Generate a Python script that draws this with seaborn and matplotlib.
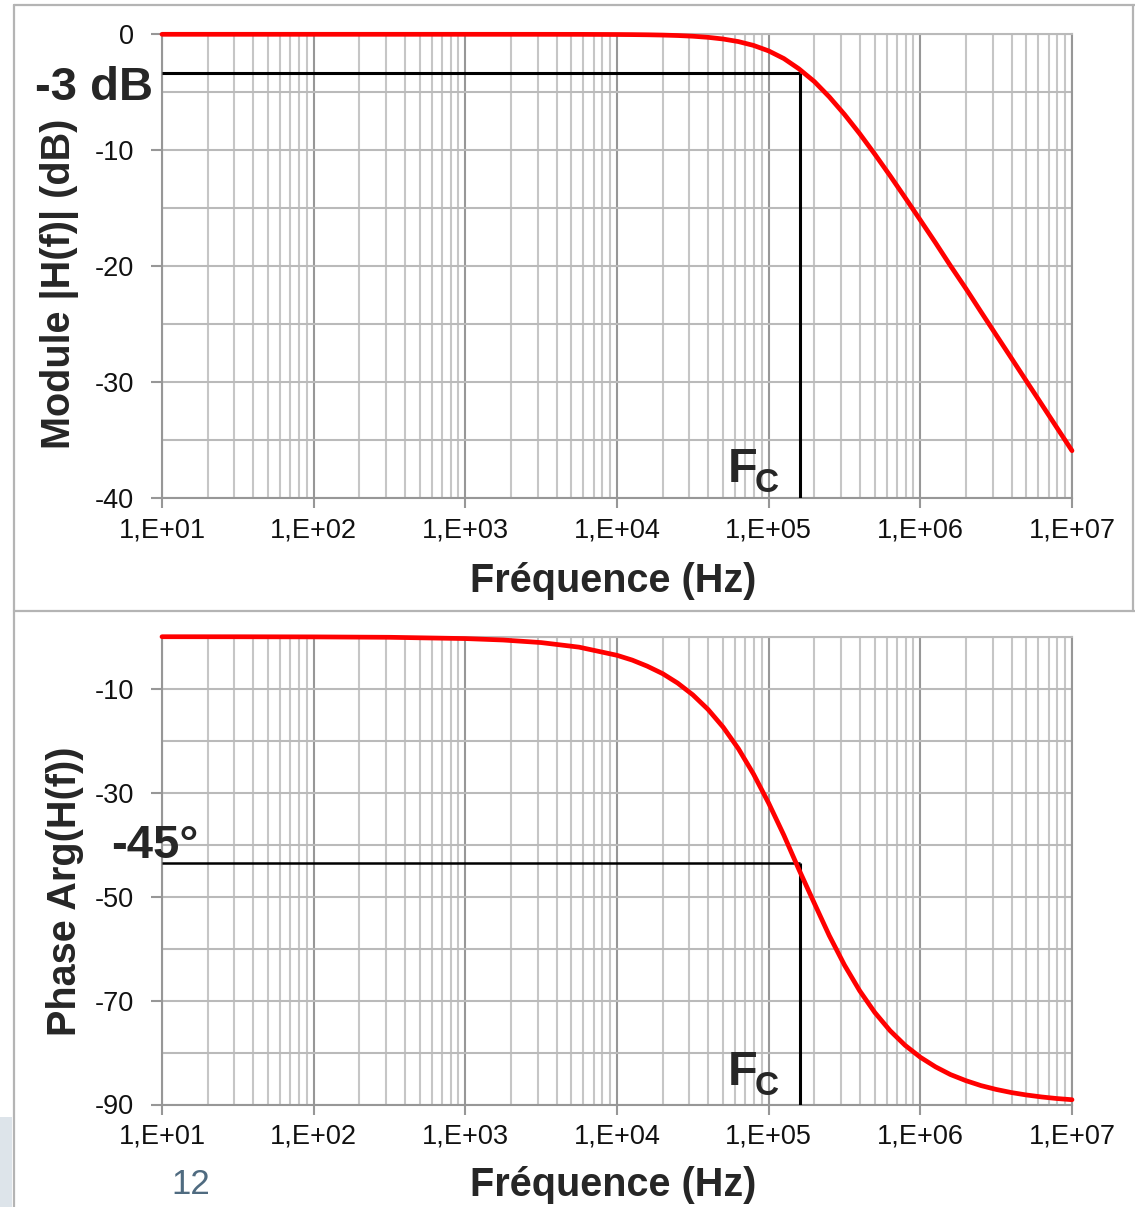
import numpy as np
import pandas as pd
import matplotlib
matplotlib.use("Agg")
import matplotlib.pyplot as plt
import seaborn as sns
from matplotlib.ticker import FixedLocator, FuncFormatter, NullFormatter
from matplotlib.lines import Line2D
from matplotlib.patches import Rectangle

# ---------------- data ----------------
freq_hz = [1.0e1, 3.16e1, 1.0e2, 3.16e2, 1.0e3, 1.78e3, 3.16e3, 5.62e3,
           1.00e4, 1.26e4, 1.58e4, 2.00e4, 2.51e4, 3.16e4, 3.98e4, 5.01e4, 6.31e4, 7.94e4,
           1.00e5, 1.26e5, 1.58e5, 2.00e5, 2.51e5, 3.16e5, 3.98e5, 5.01e5, 6.31e5, 7.94e5,
           1.00e6, 1.26e6, 1.58e6, 2.00e6, 2.51e6, 3.16e6, 3.98e6, 5.01e6, 6.31e6, 7.94e6,
           1.00e7]
module_db = [0.0, 0.0, 0.0, 0.0, 0.0, -0.001, -0.002, -0.005,
             -0.017, -0.027, -0.042, -0.067, -0.106, -0.166, -0.261, -0.407, -0.628, -0.957,
             -1.433, -2.094, -2.970, -4.075, -5.398, -6.909, -8.569, -10.341, -12.190, -14.093,
             -16.031, -17.990, -19.964, -21.947, -23.937, -25.932, -27.927, -29.924, -31.923, -33.921,
             -35.921]
phase_deg = [-0.004, -0.011, -0.036, -0.113, -0.36, -0.64, -1.13, -2.01,
             -3.58, -4.50, -5.66, -7.11, -8.92, -11.18, -13.98, -17.40, -21.53, -26.41,
             -32.02, -38.20, -44.74, -51.28, -57.51, -63.17, -68.11, -72.30, -75.78, -78.62,
             -80.91, -82.76, -84.24, -85.42, -86.36, -87.10, -87.70, -88.17, -88.55, -88.85,
             -89.08]

decades = [1e1, 1e2, 1e3, 1e4, 1e5, 1e6, 1e7]
module_major = [0, -10, -20, -30, -40]
module_minor = [-5, -15, -25, -35]
phase_major = [-10, -30, -50, -70, -90]
phase_minor = [0, -20, -40, -60, -80]

fc_hz = 1.6e5          # cut-off frequency marker
level_db = -3.3        # -3 dB marker line
level_deg = -43.5      # -45 deg marker line

xlabel = "Fréquence (Hz)"
ylabel_top = "Module |H(f)| (dB)"
ylabel_bot = "Phase Arg(H(f))"
page_number = "12"

# ---------------- style ----------------
sns.set_style("white")
plt.rcParams["font.family"] = ["Liberation Sans", "DejaVu Sans"]

W, H = 1135, 1207
fig = plt.figure(figsize=(W / 100, H / 100), dpi=100)
fig.patch.set_facecolor("white")


def fx(x):
    return x / W


def fy(y):
    return 1 - y / H


ax1 = fig.add_axes([fx(162), fy(498), fx(1072) - fx(162), fy(34.3) - fy(498)])
ax2 = fig.add_axes([fx(162), fy(1104.5), fx(1072) - fx(162), fy(636.7) - fy(1104.5)])

minor_x = [m * d for d in decades[:-1] for m in range(2, 10)]

MAJ_GRID = "#979797"
MIN_GRID = "#c6c6c6"
H_GRID = "#bababa"

df_top = pd.DataFrame({"f": freq_hz, "v": module_db})
df_bot = pd.DataFrame({"f": freq_hz, "v": phase_deg})

for ax, df, ymaj, ymin, ylim in [
    (ax1, df_top, module_major, module_minor, (-40, 0)),
    (ax2, df_bot, phase_major, phase_minor, (-90, 0)),
]:
    ax.set_xscale("log")
    ax.set_xlim(1e1, 1e7)
    ax.set_ylim(*ylim)
    ax.set_facecolor("white")
    ax.xaxis.set_major_locator(FixedLocator(decades))
    ax.xaxis.set_minor_locator(FixedLocator(minor_x))
    ax.xaxis.set_major_formatter(FuncFormatter(lambda v, p: "1,E+%02d" % int(round(np.log10(v)))))
    ax.xaxis.set_minor_formatter(NullFormatter())
    ax.yaxis.set_major_locator(FixedLocator(ymaj))
    ax.yaxis.set_minor_locator(FixedLocator(ymin))
    ax.yaxis.set_minor_formatter(NullFormatter())
    ax.yaxis.set_major_formatter(FuncFormatter(lambda v, p: "%d" % v))

    ax.grid(which="minor", axis="x", color=MIN_GRID, lw=1.5, zorder=0)
    ax.grid(which="major", axis="x", color=MAJ_GRID, lw=1.5, zorder=0)
    ax.grid(which="both", axis="y", color=H_GRID, lw=1.5, zorder=0)
    ax.set_axisbelow(True)

    ax.tick_params(axis="x", which="major", direction="out", length=7, width=1.5,
                   color=MAJ_GRID, pad=7, labelsize=19.5, labelcolor="#111111", bottom=True)
    ax.tick_params(axis="y", which="major", direction="out", length=8, width=1.5,
                   color=MAJ_GRID, pad=12, labelsize=19.5, labelcolor="#111111", left=True)
    ax.tick_params(which="minor", length=0)

    for s in ["left", "bottom"]:
        ax.spines[s].set_color(MAJ_GRID)
        ax.spines[s].set_linewidth(1.5)
    ax.spines["top"].set_color(H_GRID)
    ax.spines["top"].set_linewidth(1.5)
    ax.spines["right"].set_color(MAJ_GRID)
    ax.spines["right"].set_linewidth(1.5)

    sns.lineplot(data=df, x="f", y="v", ax=ax, color="#ff0000", linewidth=3.4,
                 estimator=None, sort=False, zorder=5)
    ax.lines[-1].set_clip_on(False)
    ax.set_xlabel("")
    ax.set_ylabel("")

# marker lines
ax1.plot([1e1, fc_hz], [level_db, level_db], color="black", lw=2.2, zorder=4,
         solid_capstyle="butt")
ax1.plot([fc_hz, fc_hz], [level_db, -40], color="black", lw=2.2, zorder=4,
         solid_capstyle="butt")
ax2.plot([1e1, fc_hz], [level_deg, level_deg], color="black", lw=1.8, zorder=4,
         solid_capstyle="butt")
ax2.plot([fc_hz, fc_hz], [level_deg, -90], color="black", lw=2.2, zorder=4,
         solid_capstyle="butt")

# annotation texts
fig.text(fx(35), fy(100), "-3 dB", fontsize=34, fontweight="bold", ha="left", va="baseline")
fig.text(fx(111), fy(858), "-45°", fontsize=34, fontweight="bold", ha="left", va="baseline")
for base in (482, 1085):
    fig.text(fx(728), fy(base), "F", fontsize=35, fontweight="bold", ha="left", va="baseline")
    fig.text(fx(755), fy(base + 10), "C", fontsize=24, fontweight="bold", ha="left", va="baseline")

# axis labels
fig.text(fx(613), fy(592), xlabel, fontsize=28.5, fontweight="bold", ha="center", va="baseline")
fig.text(fx(613), fy(1196), xlabel, fontsize=28.5, fontweight="bold", ha="center", va="baseline")
fig.text(fx(60), fy(284), ylabel_top, fontsize=28.5, fontweight="bold", rotation=90,
         ha="center", va="center")
fig.text(fx(65), fy(891), ylabel_bot, fontsize=28.5, fontweight="bold", rotation=90,
         ha="center", va="center")

# page number and decorations
fig.text(fx(191), fy(1184), page_number, fontsize=25, color="#4f6b80", ha="center", va="center")
fig.add_artist(Rectangle((0, 0), fx(12), fy(1117), transform=fig.transFigure,
                         facecolor="#dde4ea", edgecolor="none", zorder=0))
FRAME = "#b4b4b4"
for (x0, y0, x1, y1) in [(14, 5, 1135, 5), (14, 5, 14, 1207), (14, 611, 1135, 611),
                         (1133, 5, 1133, 611)]:
    fig.add_artist(Line2D([fx(x0), fx(x1)], [fy(y0), fy(y1)], transform=fig.transFigure,
                          color=FRAME, lw=1.6))

fig.savefig("out.png", dpi=100, facecolor="white")
